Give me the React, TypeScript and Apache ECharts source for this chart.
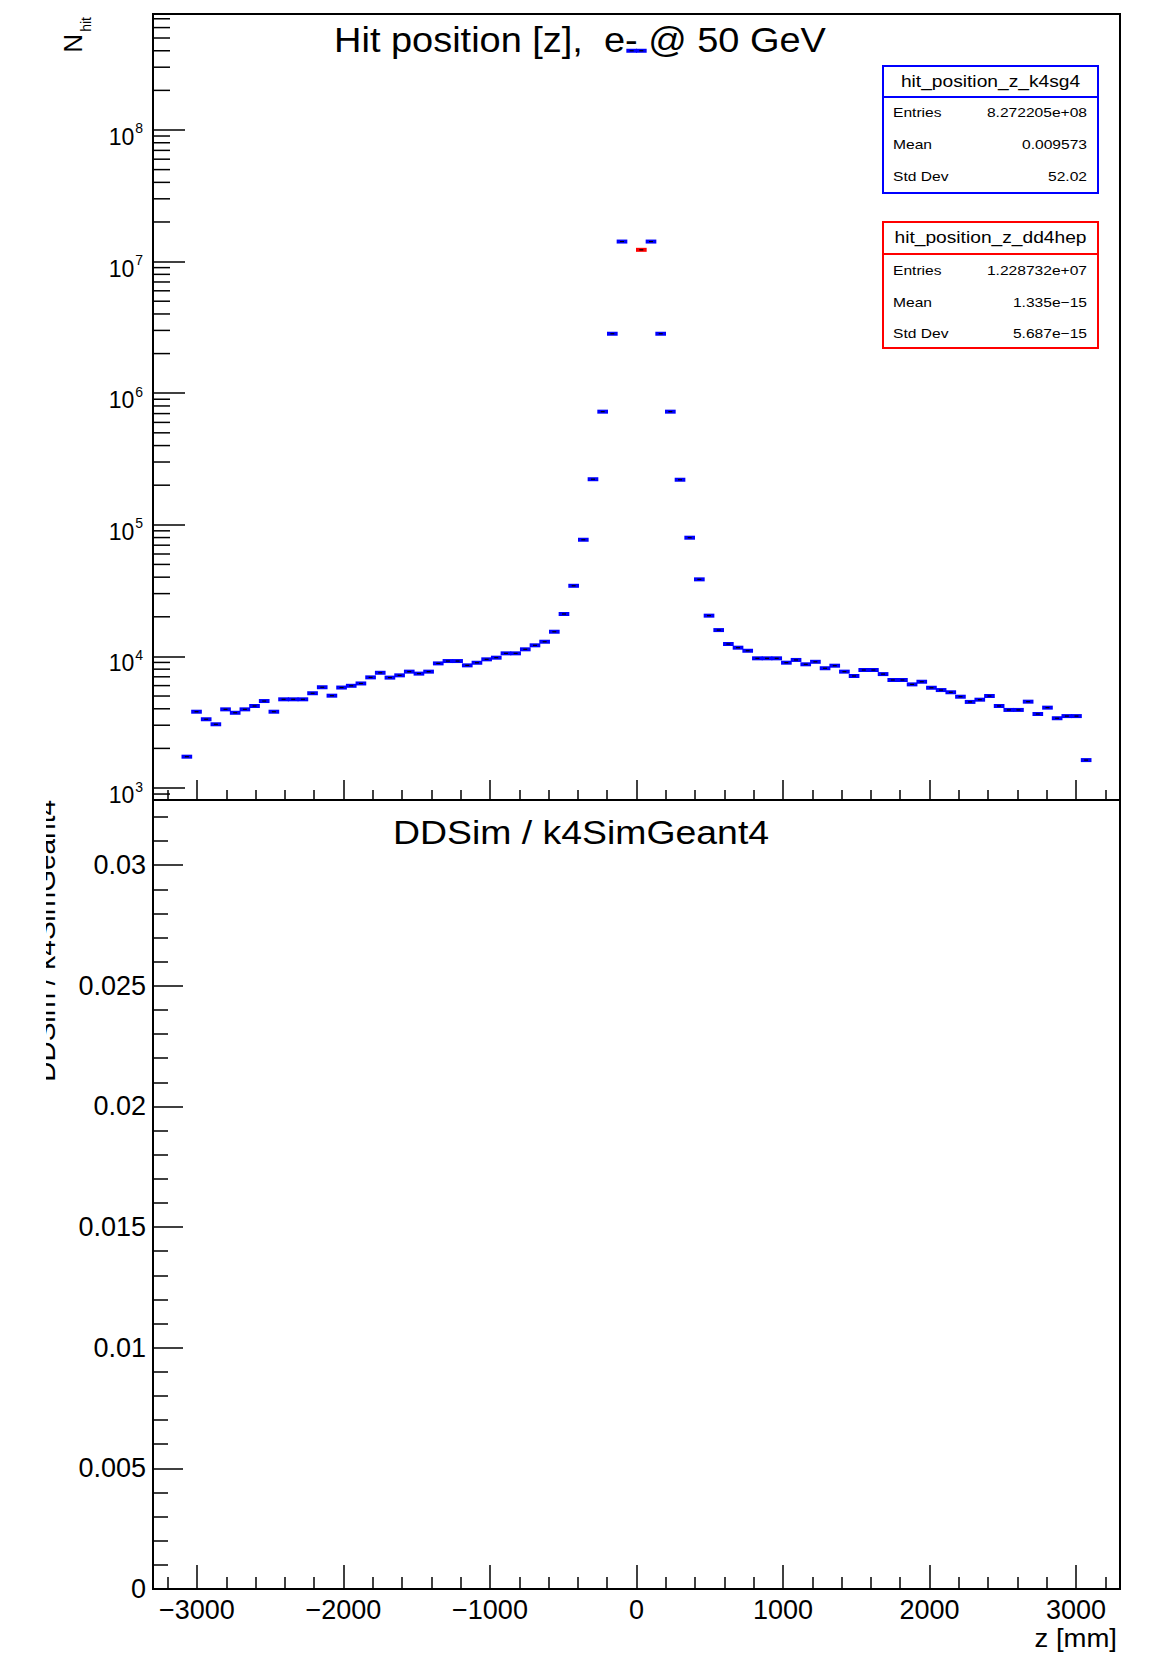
import React, { useEffect, useRef } from 'react';
import * as echarts from 'echarts';

// ---- histogram binning (100 bins over [-3300, 3300] mm) ----
const zMin = -3300;
const zMax = 3300;
const binWidth = 66;

// k4SimGeant4 counts for bins 3 .. 96 (bins 0-2 and 97-99 empty)
const k4sg4FirstBin = 3;
const k4sg4Counts = [
  1730, 3800, 3330, 3050, 3960, 3730, 3960, 4200, 4580, 3800,
  4720, 4720, 4720, 5250, 5830, 5030, 5800, 5980, 6230, 6930,
  7510, 6900, 7180, 7660, 7400, 7660, 8850, 9220, 9220, 8550,
  8950, 9500, 9780, 10550, 10550, 11320, 12140, 12930, 15400, 21000,
  34400, 77000, 222000, 724000, 2830000, 14200000, 400000000, 400000000, 14200000, 2830000,
  724000, 220000, 79800, 38500, 20400, 15850, 12420, 11650, 11040, 9670,
  9670, 9670, 8960, 9400, 8710, 9100, 8130, 8500, 7660, 7100,
  7880, 7880, 7340, 6620, 6620, 6130, 6420, 5780, 5550, 5340,
  4940, 4510, 4690, 5000, 4200, 3920, 3920, 4530, 3650, 4080,
  3390, 3520, 3520, 1630,
];

// DD4hep: a single filled bin
const dd4hepBins = [50];
const dd4hepCounts = [12287320];

// ---- axes ----
const nHitMin = 810.8;
const nHitMax = 7.61e8;
const ratioMin = 0;
const ratioMax = 0.0327;

const xMajorTicks = [-3000, -2000, -1000, 0, 1000, 2000, 3000];
const xMinorTicks = [
  -3200, -2800, -2600, -2400, -2200, -1800, -1600, -1400, -1200, -800, -600, -400, -200,
  200, 400, 600, 800, 1200, 1400, 1600, 1800, 2200, 2400, 2600, 2800, 3200,
];
const logMinorTicks = [
  900,
  2000, 3000, 4000, 5000, 6000, 7000, 8000, 9000,
  20000, 30000, 40000, 50000, 60000, 70000, 80000, 90000,
  200000, 300000, 400000, 500000, 600000, 700000, 800000, 900000,
  2000000, 3000000, 4000000, 5000000, 6000000, 7000000, 8000000, 9000000,
  20000000, 30000000, 40000000, 50000000, 60000000, 70000000, 80000000, 90000000,
  200000000, 300000000, 400000000, 500000000, 600000000, 700000000,
];
const ratioMajorTicks = [0, 0.005, 0.01, 0.015, 0.02, 0.025, 0.03];
const ratioTickLabels = ['0', '0.005', '0.01', '0.015', '0.02', '0.025', '0.03'];
const ratioMinorTicks = [
  0.001, 0.002, 0.003, 0.004, 0.006, 0.007, 0.008, 0.009,
  0.011, 0.012, 0.013, 0.014, 0.016, 0.017, 0.018, 0.019,
  0.021, 0.022, 0.023, 0.024, 0.026, 0.027, 0.028, 0.029,
  0.031, 0.032,
];

// ---- texts ----
const titleText = 'Hit position [z],  e- @ 50 GeV';
const ratioTitle = 'DDSim / k4SimGeant4';
const xTitle = 'z [mm]';
const statsK4Name = 'hit_position_z_k4sg4';
const statsK4 = [
  ['Entries', '8.272205e+08'],
  ['Mean', '0.009573'],
  ['Std Dev', '52.02'],
];
const statsDDName = 'hit_position_z_dd4hep';
const statsDD = [
  ['Entries', '1.228732e+07'],
  ['Mean', '1.335e\u221215'],
  ['Std Dev', '5.687e\u221215'],
];

const FONT = 'Liberation Sans, Arial, Helvetica, sans-serif';
const BLUE = '#0000ff';
const RED = '#ff0000';

const binCenter = (i: number) => zMin + binWidth * (i + 0.5);

const k4sg4Data = k4sg4Counts.map((v, k) => [binCenter(k4sg4FirstBin + k), v]);
const dd4hepData = dd4hepBins.map((b, k) => [binCenter(b), dd4hepCounts[k]]);

const histRender = (color: string) => (params: any, api: any) => {
  const z = api.value(0);
  const v = api.value(1);
  const a = api.coord([z - binWidth / 2, v]);
  const b = api.coord([z + binWidth / 2, v]);
  const mid = (a[0] + b[0]) / 2;
  return {
    type: 'group',
    children: [
      {
        type: 'rect',
        shape: { x: a[0] - 0.5, y: a[1] - 2, width: b[0] - a[0] + 1, height: 4 },
        style: { fill: color },
      },
      {
        type: 'rect',
        shape: { x: mid - 2, y: a[1] - 0.6, width: 4, height: 1.2 },
        style: { fill: '#000' },
      },
    ],
  };
};

const tickStyle = { color: '#000', width: 1.5 };

function axisBase() {
  return {
    axisLine: { show: false, onZero: false },
    splitLine: { show: false },
    splitArea: { show: false },
  };
}

function statsBox(
  x: number, y: number, w: number, h: number, sep: number,
  color: string, name: string, rows: string[][], rowYs: number[],
) {
  const els: any[] = [
    { type: 'rect', shape: { x, y, width: w, height: h }, style: { fill: '#fff', stroke: color, lineWidth: 2 }, z: 5 },
    { type: 'line', shape: { x1: x, y1: sep, x2: x + w, y2: sep }, style: { stroke: color, lineWidth: 2 }, z: 6 },
    {
      type: 'text', x: x + w / 2, y: (y + sep) / 2, scaleX: 1.2, z: 6,
      style: { text: name, fontFamily: FONT, fontSize: 16, fill: '#000', align: 'center', verticalAlign: 'middle', textAlign: 'center', textVerticalAlign: 'middle' },
    },
  ];
  rows.forEach((r, k) => {
    els.push({
      type: 'text', x: x + 10, y: rowYs[k], scaleX: 1.2, z: 6,
      style: { text: r[0], fontFamily: FONT, fontSize: 13, fill: '#000', align: 'left', verticalAlign: 'middle', textAlign: 'left', textVerticalAlign: 'middle' },
    });
    els.push({
      type: 'text', x: x + w - 11, y: rowYs[k], scaleX: 1.2, z: 6,
      style: { text: r[1], fontFamily: FONT, fontSize: 13, fill: '#000', align: 'right', verticalAlign: 'middle', textAlign: 'right', textVerticalAlign: 'middle' },
    });
  });
  return els;
}

export default function App() {
  const ref = useRef<HTMLDivElement>(null);

  useEffect(() => {
    if (!ref.current) return;
    const chart = echarts.init(ref.current, undefined, { renderer: 'svg' });

    const option: any = {
      animation: false,
      backgroundColor: '#fff',
      textStyle: { fontFamily: FONT },
      grid: [
        { left: 153, top: 14, width: 967, height: 786, show: true, borderColor: '#000', borderWidth: 2, backgroundColor: 'transparent', containLabel: false, outerBoundsMode: 'none' },
        { left: 153, top: 800, width: 967, height: 789, show: true, borderColor: '#000', borderWidth: 2, backgroundColor: 'transparent', containLabel: false, outerBoundsMode: 'none' },
      ],
      xAxis: [
        {
          ...axisBase(), gridIndex: 0, type: 'value', min: zMin, max: zMax, position: 'bottom',
          axisTick: { show: true, inside: true, length: 20, customValues: xMajorTicks, lineStyle: tickStyle },
          axisLabel: { show: false },
        },
        {
          ...axisBase(), gridIndex: 0, type: 'value', min: zMin, max: zMax, position: 'bottom',
          axisTick: { show: true, inside: true, length: 10, customValues: xMinorTicks, lineStyle: tickStyle },
          axisLabel: { show: false },
        },
        {
          ...axisBase(), gridIndex: 1, type: 'value', min: zMin, max: zMax, position: 'bottom',
          axisTick: { show: true, inside: true, length: 24, customValues: xMajorTicks, lineStyle: tickStyle },
          axisLabel: {
            show: true, customValues: xMajorTicks, margin: 7, fontSize: 27, fontFamily: FONT, color: '#000',
            formatter: (v: number) => (v < 0 ? '\u2212' + Math.abs(v) : String(v)),
          },
        },
        {
          ...axisBase(), gridIndex: 1, type: 'value', min: zMin, max: zMax, position: 'bottom',
          axisTick: { show: true, inside: true, length: 12, customValues: xMinorTicks, lineStyle: tickStyle },
          axisLabel: { show: false },
        },
      ],
      yAxis: [
        {
          ...axisBase(), gridIndex: 0, type: 'log', logBase: 10, min: nHitMin, max: nHitMax, position: 'left',
          axisTick: { show: true, inside: true, length: 32, lineStyle: tickStyle },
          axisLabel: {
            show: true, margin: 10, padding: [14, 0, 0, 0],
            formatter: (v: number) => {
              const e = Math.log10(v);
              const r = Math.round(e);
              if (Math.abs(e - r) > 1e-6) return '';
              return `{b|10}{e|${r}}`;
            },
            rich: {
              b: { fontSize: 23, fontFamily: FONT, color: '#000', lineHeight: 23, verticalAlign: 'bottom' },
              e: { fontSize: 14, fontFamily: FONT, color: '#000', lineHeight: 14, padding: [0, 0, 13, 1], verticalAlign: 'bottom' },
            },
          },
        },
        {
          ...axisBase(), gridIndex: 1, type: 'value', min: ratioMin, max: ratioMax, position: 'left',
          axisTick: { show: true, inside: true, length: 30, customValues: ratioMajorTicks, lineStyle: tickStyle },
          axisLabel: {
            show: true, customValues: ratioMajorTicks, margin: 7, fontSize: 27, fontFamily: FONT, color: '#000',
            formatter: (v: number) => {
              const k = ratioMajorTicks.findIndex((t) => Math.abs(t - v) < 1e-9);
              return k >= 0 ? ratioTickLabels[k] : '';
            },
          },
        },
        {
          ...axisBase(), gridIndex: 1, type: 'value', min: ratioMin, max: ratioMax, position: 'left',
          axisTick: { show: true, inside: true, length: 15, customValues: ratioMinorTicks, lineStyle: tickStyle },
          axisLabel: { show: false },
        },
      ],
      series: [
        {
          type: 'custom', name: 'k4sg4', xAxisIndex: 0, yAxisIndex: 0,
          data: k4sg4Data, renderItem: histRender(BLUE), z: 3, silent: true,
        },
        {
          type: 'custom', name: 'dd4hep', xAxisIndex: 0, yAxisIndex: 0,
          data: dd4hepData, renderItem: histRender(RED), z: 4, silent: true,
        },
        {
          type: 'custom', name: 'logMinorTicks', xAxisIndex: 0, yAxisIndex: 0,
          data: logMinorTicks.map((v) => [zMin, v]),
          renderItem: (params: any, api: any) => {
            const c = api.coord([api.value(0), api.value(1)]);
            return { type: 'line', shape: { x1: c[0], y1: c[1], x2: c[0] + 17, y2: c[1] }, style: { stroke: '#000', lineWidth: 1.5 } };
          },
          silent: true,
        },
        { type: 'line', xAxisIndex: 2, yAxisIndex: 1, data: [], silent: true },
      ],
      graphic: {
        elements: [
          {
            type: 'text', x: 580, y: 40, scaleX: 1.1, z: 1,
            style: { text: titleText, fontFamily: FONT, fontSize: 34.5, fill: '#000', align: 'center', verticalAlign: 'middle', textAlign: 'center', textVerticalAlign: 'middle' },
          },
          {
            type: 'text', x: 581, y: 833, scaleX: 1.1, z: 1,
            style: { text: ratioTitle, fontFamily: FONT, fontSize: 34, fill: '#000', align: 'center', verticalAlign: 'middle', textAlign: 'center', textVerticalAlign: 'middle' },
          },
          {
            type: 'text', x: 1117, y: 1638, scaleX: 1.1, z: 1,
            style: { text: xTitle, fontFamily: FONT, fontSize: 25, fill: '#000', align: 'right', verticalAlign: 'middle', textAlign: 'right', textVerticalAlign: 'middle' },
          },
          {
            type: 'text', x: 73, y: 34, rotation: Math.PI / 2, z: 1,
            style: { text: 'N', fontFamily: FONT, fontSize: 26, fill: '#000', align: 'right', verticalAlign: 'middle', textAlign: 'right', textVerticalAlign: 'middle' },
          },
          {
            type: 'text', x: 86, y: 17, rotation: Math.PI / 2, z: 1,
            style: { text: 'hit', fontFamily: FONT, fontSize: 14, fill: '#000', align: 'right', verticalAlign: 'middle', textAlign: 'right', textVerticalAlign: 'middle' },
          },
          {
            type: 'text', x: 45, y: 800, rotation: Math.PI / 2, z: 1,
            style: { text: ratioTitle, fontFamily: FONT, fontSize: 28, fill: '#000', align: 'right', verticalAlign: 'middle', textAlign: 'right', textVerticalAlign: 'middle' },
          },
          { type: 'rect', shape: { x: 0, y: 795, width: 46, height: 320 }, style: { fill: '#fff' }, z: 20 },
          ...statsBox(883, 66, 215, 127, 97, BLUE, statsK4Name, statsK4, [112, 144, 176]),
          ...statsBox(883, 222, 215, 126, 254, RED, statsDDName, statsDD, [270, 302, 333]),
        ],
      },
    };

    chart.setOption(option);
    return () => chart.dispose();
  }, []);

  return (
    <div
      ref={ref}
      style={{ position: 'absolute', left: 0, top: 0, width: 1157, height: 1656, background: '#fff' }}
    />
  );
}
